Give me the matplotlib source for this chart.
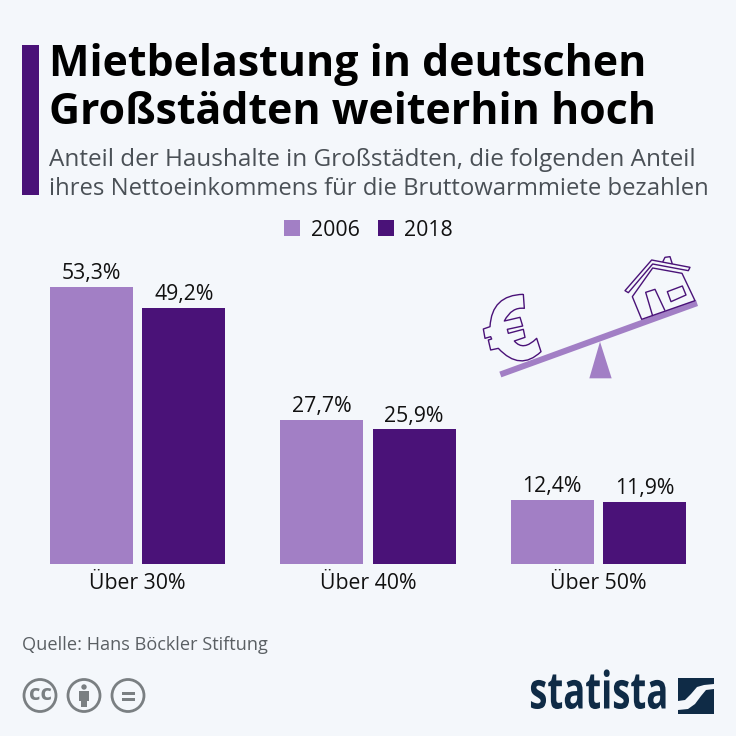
import matplotlib
matplotlib.use("Agg")
import matplotlib.pyplot as plt
import matplotlib.patches as mpatches
from matplotlib.patheffects import AbstractPathEffect
from matplotlib.path import Path
from matplotlib.transforms import Affine2D
import numpy as np

CATEGORIES = ["Über 30%", "Über 40%", "Über 50%"]
YEARS = ["2006", "2018"]
VALUES_2006 = [53.3, 27.7, 12.4]
VALUES_2018 = [49.2, 25.9, 11.9]

BG = "#F4F7FB"
LIGHT = "#A27FC5"
DARK = "#4A1278"
NAVY = "#0F2B46"
GREY = "#7A7F82"
INK = "#111111"

SIZE = 736
plt.rcParams["font.family"] = ["Open Sans", "DejaVu Sans"]


class Squeeze(AbstractPathEffect):
    """Narrow a text horizontally around a display x (the logo font is condensed)."""

    def __init__(self, x0, sx):
        super().__init__()
        self.x0 = x0
        self.sx = sx

    def draw_path(self, renderer, gc, tpath, affine, rgbFace=None):
        squeeze = Affine2D().translate(-self.x0, 0).scale(self.sx, 1).translate(self.x0, 0)
        renderer.draw_path(gc, tpath, affine + squeeze, rgbFace)


def fmt(v):
    return f"{v:.1f}%".replace(".", ",")


def to_px(points):
    return [(470 + x / 3, 240 + y / 3) for x, y in points]


def draw_header(deco):
    deco.add_patch(mpatches.Rectangle((22, 45), 17, 150, color=DARK, lw=0))
    deco.text(49, 64, "Mietbelastung in deutschen", fontsize=30.9, fontweight="bold",
              color="black", va="center", ha="left")
    deco.text(49, 112, "Großstädten weiterhin hoch", fontsize=30.9, fontweight="bold",
              color="black", va="center", ha="left")
    deco.text(49, 160, "Anteil der Haushalte in Großstädten, die folgenden Anteil",
              fontsize=17.5, color="#4A5056", va="center", ha="left")
    deco.text(49, 189, "ihres Nettoeinkommens für die Bruttowarmmiete bezahlen",
              fontsize=17.2, color="#4A5056", va="center", ha="left")


def draw_seesaw(deco):
    beam = [(88, 395), (678, 180), (684, 198), (94, 412)]
    stand = [(390, 305), (358, 415), (425, 415)]
    deco.add_patch(mpatches.Polygon(to_px(beam), color=LIGHT, lw=0))
    deco.add_patch(mpatches.Polygon(to_px(stand), color=LIGHT, lw=0))

    L, Q = Path.LINETO, Path.CURVE3
    euro = [((160, 163), Path.MOVETO), ((163, 205), L), ((125, 200), Q), ((103, 243), Q),
            ((150, 232), L), ((158, 258), L), ((112, 268), L), ((115, 280), L),
            ((160, 268), L), ((165, 292), L), ((133, 303), L), ((160, 335), Q), ((200, 295), Q),
            ((213, 335), L), ((150, 395), Q), ((85, 325), Q), ((62, 330), L), ((55, 300), L),
            ((65, 297), L), ((62, 290), L), ((45, 295), L), ((40, 267), L), ((60, 260), L),
            ((65, 165), Q), ((160, 163), Q)]
    roof = [(465, 152), (545, 60), (660, 82), (655, 92), (548, 72), (475, 158)]
    body = [(487, 170), (548, 84), (636, 100), (675, 182), (515, 238)]
    window = [(592, 155), (637, 138), (648, 165), (603, 185)]
    door = [(548, 228), (527, 157), (555, 148), (585, 212)]
    chimney = [(578, 66), (585, 52), (600, 50), (607, 72)]

    line = dict(edgecolor=DARK, facecolor="none", lw=1.0, joinstyle="round")
    euro_path = Path(to_px([p for p, _ in euro]), [c for _, c in euro])
    deco.add_patch(mpatches.PathPatch(euro_path, **line))
    for shape in (roof, body, window):
        deco.add_patch(mpatches.Polygon(to_px(shape), closed=True, **line))
    for shape in (door, chimney):
        deco.add_patch(mpatches.Polygon(to_px(shape), closed=False, **line))


def draw_licence(deco):
    y = 695.5
    for x in (40, 84, 128):
        deco.add_patch(mpatches.Circle((x, y), 16, edgecolor=GREY, facecolor="none", lw=2.0))
    deco.text(40, y - 1, "cc", fontsize=16, fontweight="bold", color=GREY, ha="center", va="center")
    # person
    deco.add_patch(mpatches.Circle((84, 687), 2.7, color=GREY, lw=0))
    deco.add_patch(mpatches.Rectangle((79.3, 690.5), 10, 10.5, color=GREY, lw=0))
    deco.add_patch(mpatches.Rectangle((81, 700), 6.3, 7, color=GREY, lw=0))
    # equals
    deco.add_patch(mpatches.Rectangle((121.7, 692), 13.3, 3, color=GREY, lw=0))
    deco.add_patch(mpatches.Rectangle((121.7, 697.5), 13.3, 3, color=GREY, lw=0))


def draw_logo(deco):
    deco.text(668, 695.5, "statista", fontsize=37, fontweight="bold", color=NAVY,
              ha="right", va="center", path_effects=[Squeeze(668, 0.71)])
    deco.add_patch(mpatches.Rectangle((678, 678), 35.5, 35.5, color=NAVY, lw=0))
    xs = [678, 685, 691, 697, 704, 714, 714, 706, 701, 695, 688, 678]
    ys = [701, 700, 694, 687, 685, 684, 689, 690, 696, 704, 709, 710]
    deco.fill(xs, ys, color=BG, lw=0)


def main():
    fig = plt.figure(figsize=(SIZE / 100, SIZE / 100), dpi=100, facecolor=BG)

    # chart axes: px 22.5..713.5 wide, baseline at y=564
    ax = fig.add_axes([22.5 / SIZE, 1 - 564 / SIZE, 691 / SIZE, 312 / SIZE])
    ax.set_facecolor("none")
    x = np.arange(len(CATEGORIES))
    bars_a = ax.bar(x - 0.2, VALUES_2006, width=0.36, color=LIGHT, label=YEARS[0])
    bars_b = ax.bar(x + 0.2, VALUES_2018, width=0.36, color=DARK, label=YEARS[1])
    ax.set_xlim(-0.5, 2.5)
    ax.set_ylim(0, 60)
    ax.set_yticks([])
    ax.set_xticks(x)
    ax.set_xticklabels(CATEGORIES, fontsize=15.3, color=INK)
    ax.tick_params(axis="x", length=0, pad=6.5)
    for spine in ax.spines.values():
        spine.set_visible(False)

    for bars, vals in ((bars_a, VALUES_2006), (bars_b, VALUES_2018)):
        for bar, val in zip(bars, vals):
            ax.annotate(fmt(val), (bar.get_x() + bar.get_width() / 2, val),
                        textcoords="offset points", xytext=(0, 2), ha="center", va="bottom",
                        fontsize=15.3, color=INK)

    fig.legend(handles=[bars_a, bars_b], loc="center", bbox_to_anchor=(368.5 / SIZE, 1 - 230 / SIZE),
               ncol=2, frameon=False, fontsize=15.3, handlelength=0.75, handleheight=0.75,
               handletextpad=0.5, columnspacing=0.85, labelcolor=INK)

    # overlay in pixel coordinates for header, icons and footer
    deco = fig.add_axes([0, 0, 1, 1])
    deco.set_xlim(0, SIZE)
    deco.set_ylim(SIZE, 0)
    deco.axis("off")

    draw_header(deco)
    draw_seesaw(deco)
    deco.text(22, 645, "Quelle: Hans Böckler Stiftung", fontsize=13.1, color="#5A5F63",
              va="center", ha="left")
    draw_licence(deco)
    draw_logo(deco)

    fig.savefig("out.png", dpi=100, facecolor=BG)


if __name__ == "__main__":
    main()
